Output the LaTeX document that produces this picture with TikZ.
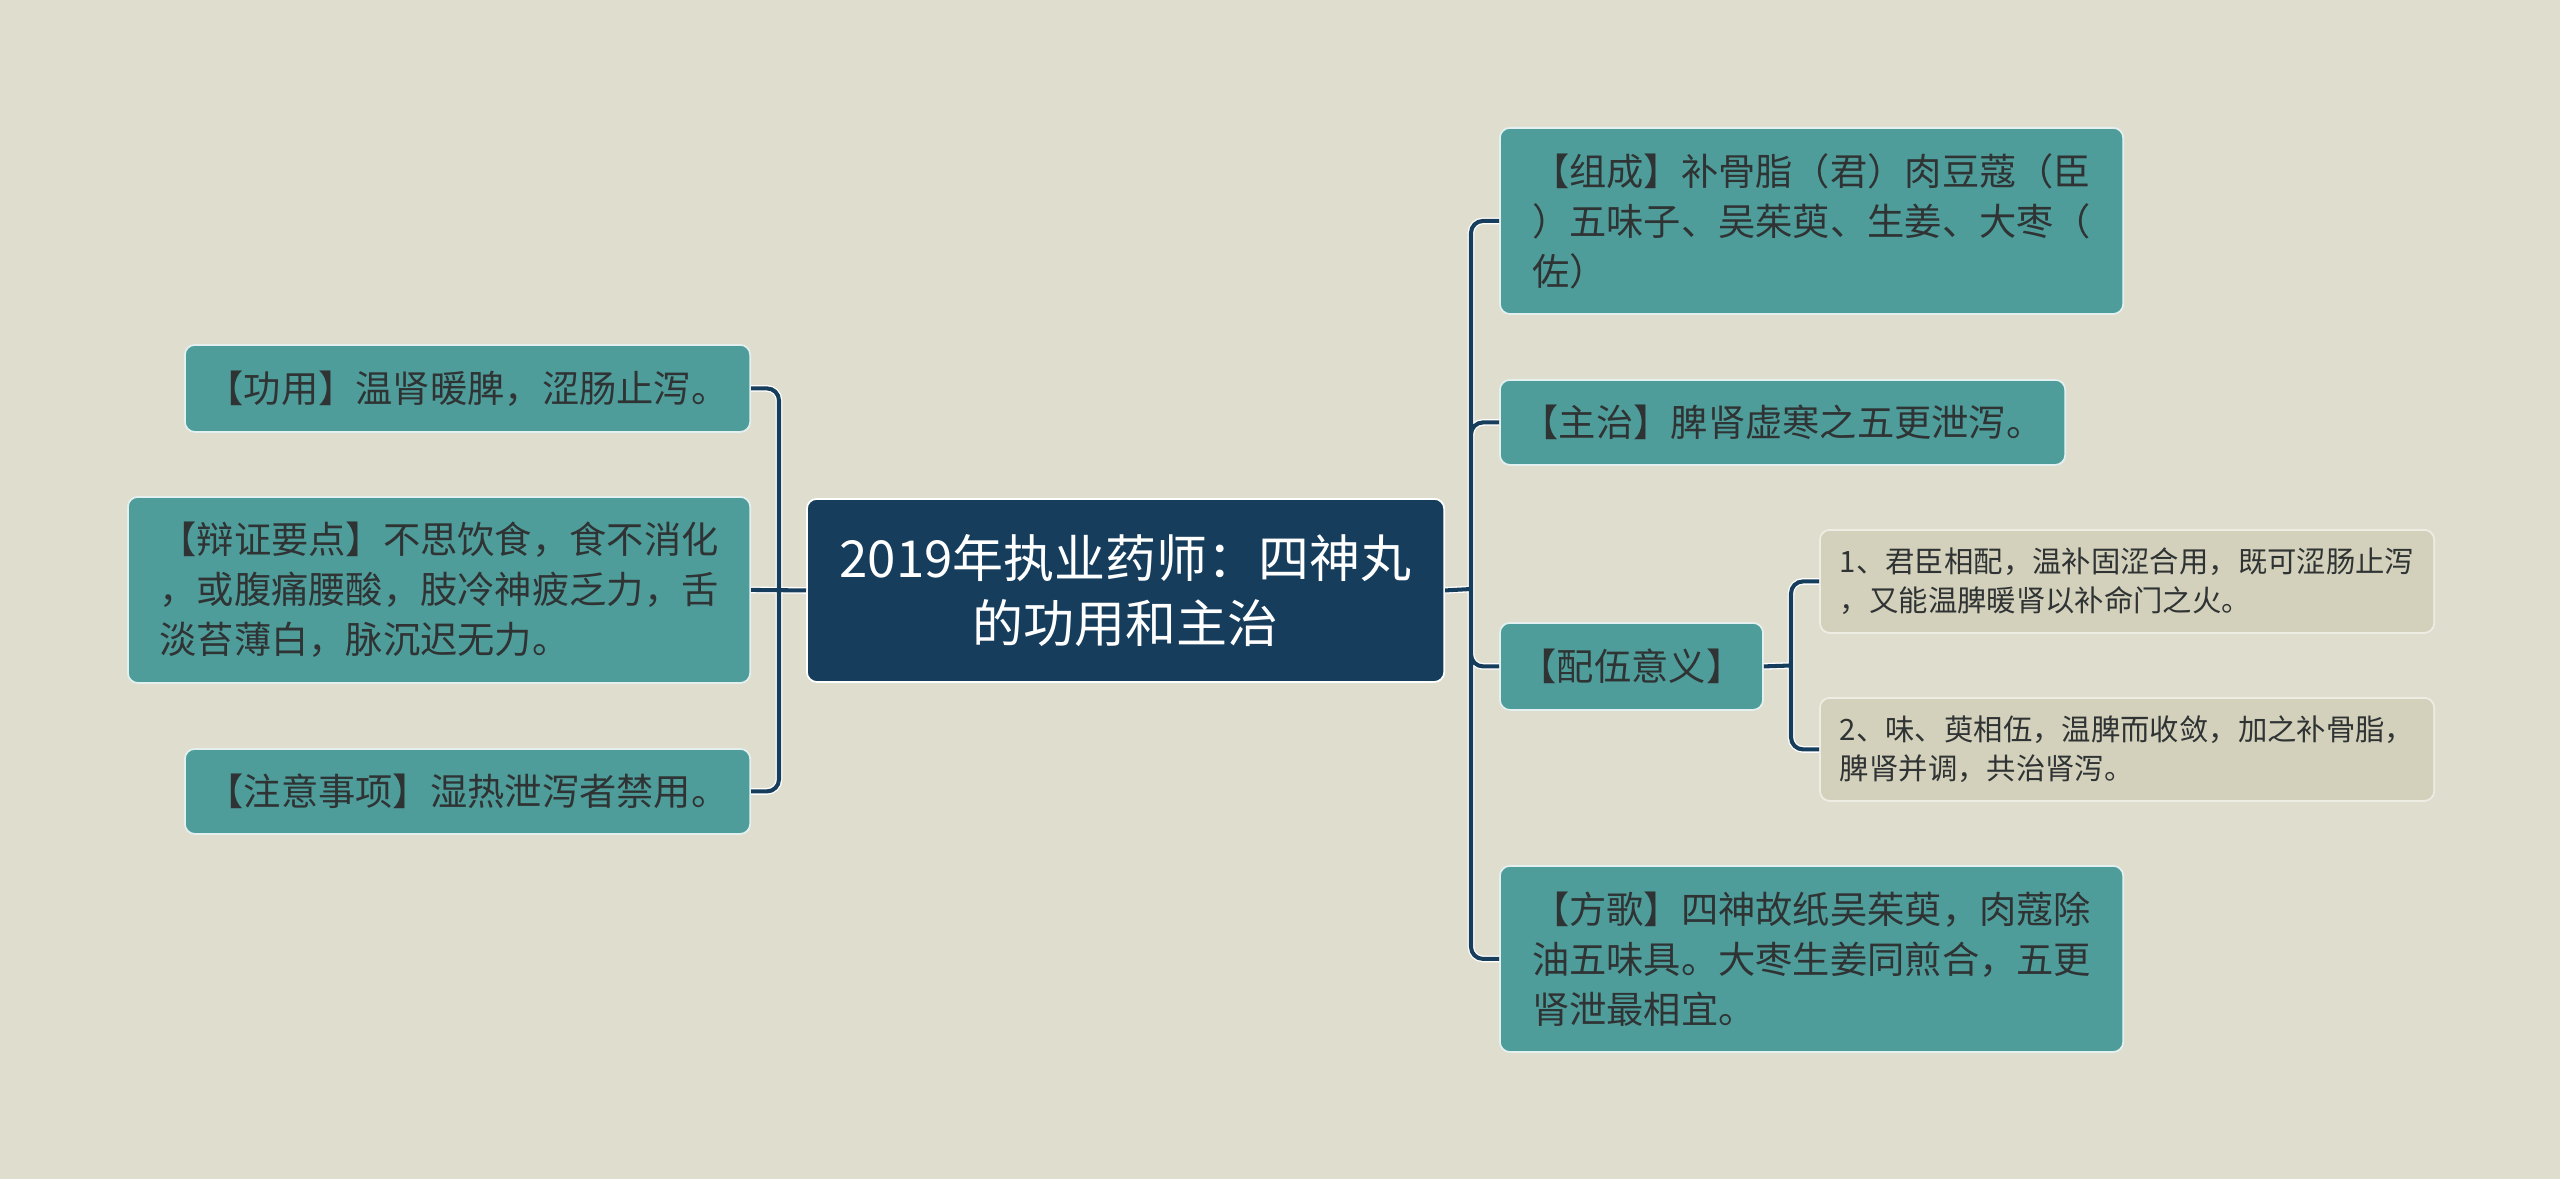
\documentclass[tikz,border=0pt]{standalone}
\usepackage{fontspec}
\newfontfamily\cjk{Noto Sans CJK SC}
\usepackage{tikz}
\definecolor{paper}{HTML}{DFDDCE}
\definecolor{teal1}{HTML}{4E9D9B}
\definecolor{navy}{HTML}{163D5C}
\definecolor{sand}{HTML}{D3D1BC}
\definecolor{ink}{HTML}{2F3333}
\tikzstyle{root}=[fill=navy,draw=white,line width=0.5pt,rounded corners=0.1cm,anchor=north west,
  text=white,align=center,inner xsep=0.19cm,font=\cjk\fontsize{14.5}{18.6}\selectfont]
\tikzstyle{leaf}=[fill=teal1,draw=white!85!teal1,line width=0.5pt,rounded corners=0.1cm,anchor=north west,
  text=ink,align=left,inner xsep=0.19cm,font=\cjk\fontsize{10.6}{14.2}\selectfont]
\tikzstyle{note}=[fill=sand,draw=white!60!sand,line width=0.5pt,rounded corners=0.1cm,anchor=north west,
  text=ink,align=left,inner xsep=0.2cm,font=\cjk\fontsize{8.35}{11.1}\selectfont]
\tikzstyle{link}=[draw=navy,line width=1.15pt,rounded corners=0.12cm,
  preaction={draw=white,line width=1.9pt}]
\begin{document}
\begin{tikzpicture}[x=0.01cm,y=-0.01cm]
  \fill[paper] (0,0) rectangle (2560,1179);
  \useasboundingbox (0,0) rectangle (2560,1179);

  % centre
  \node[root,minimum width=6.37cm,minimum height=1.83cm] (main) at (806,498)
    {2019年执业药师：四神丸\\的功用和主治};

  % left side
  \node[leaf,minimum width=5.65cm,minimum height=0.87cm] (gongyong) at (184,344)
    {【功用】温肾暖脾，涩肠止泻。};
  \node[leaf,minimum width=6.22cm,minimum height=1.86cm] (bianzheng) at (127,496)
    {【辩证要点】不思饮食，食不消化\\，或腹痛腰酸，肢冷神疲乏力，舌\\淡苔薄白，脉沉迟无力。};
  \node[leaf,minimum width=5.65cm,minimum height=0.85cm] (zhuyi) at (184,748)
    {【注意事项】湿热泄泻者禁用。};

  % right side
  \node[leaf,minimum width=6.23cm,minimum height=1.86cm] (zucheng) at (1499,127)
    {【组成】补骨脂（君）肉豆蔻（臣\\）五味子、吴茱萸、生姜、大枣（\\佐）};
  \node[leaf,minimum width=5.65cm,minimum height=0.85cm] (zhuzhi) at (1499,379)
    {【主治】脾肾虚寒之五更泄泻。};
  \node[leaf,minimum width=2.63cm,minimum height=0.87cm] (peiwu) at (1499,622)
    {【配伍意义】};
  \node[leaf,minimum width=6.23cm,minimum height=1.86cm] (fangge) at (1499,865)
    {【方歌】四神故纸吴茱萸，肉蔻除\\油五味具。大枣生姜同煎合，五更\\肾泄最相宜。};

  \node[note,minimum width=6.14cm,minimum height=1.03cm] (pw1) at (1819,529)
    {1、君臣相配，温补固涩合用，既可涩肠止泻\\，又能温脾暖肾以补命门之火。};
  \node[note,minimum width=6.14cm,minimum height=1.03cm] (pw2) at (1819,697)
    {2、味、萸相伍，温脾而收敛，加之补骨脂，\\脾肾并调，共治肾泻。};

  % junctions
  \coordinate (lj) at (779,589);
  \coordinate (rj) at (1471,589);
  \coordinate (pj) at (1791,665.5);

  \draw[link] (main.west) -- (bianzheng.east)
    (lj) |- (gongyong.east) (lj) |- (zhuyi.east);
  \draw[link] (main.east) -- (rj)
    (rj) |- (zucheng.west) (rj) |- (zhuzhi.west)
    (rj) |- (peiwu.west) (rj) |- (fangge.west);
  \draw[link] (peiwu.east) -- (pj)
    (pj) |- (pw1.west) (pj) |- (pw2.west);

\end{tikzpicture}
\end{document}
